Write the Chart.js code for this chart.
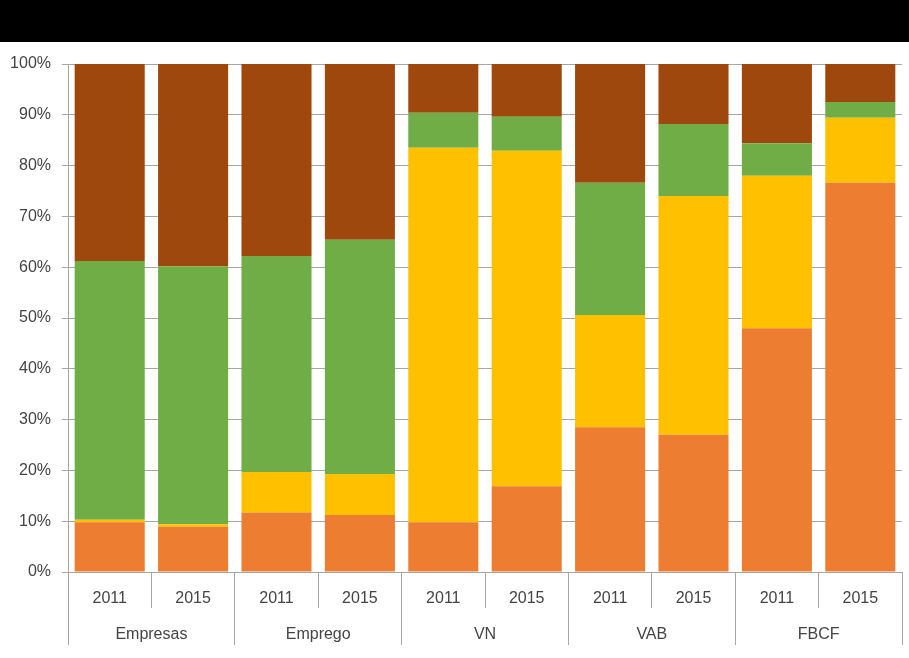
<!DOCTYPE html>
<html lang="pt">
<head>
  <meta charset="UTF-8">
  <title>Estrutura por indicador, 2011 e 2015</title>
  <script src="https://cdn.jsdelivr.net/npm/chart.js"></script>
  <style>
    html, body { margin: 0; padding: 0; background: #fff; }
    .top-band { width: 909px; height: 42px; background: #000; }
    .chart-box { position: relative; width: 909px; height: 616px; }
  </style>
</head>
<body>
  <div class="top-band"></div>
  <div class="chart-box">
    <canvas id="stackChart" width="909" height="616"></canvas>
  </div>

  <script>
    // categories (two levels: year under each group)
    const years = ['2011', '2015', '2011', '2015', '2011', '2015', '2011', '2015', '2011', '2015'];
    const groups = ['Empresas', 'Emprego', 'VN', 'VAB', 'FBCF'];

    // series values, % of each bar (bottom to top)
    const serie1 = [9.8, 8.9, 11.7, 11.2, 9.8, 16.9, 28.5, 27.0, 48.0, 76.6];
    const serie2 = [0.5, 0.5, 8.0, 8.1, 73.7, 66.0, 22.1, 47.0, 30.0, 12.8];
    const serie3 = [50.9, 50.8, 42.5, 46.1, 6.9, 6.7, 26.0, 14.2, 6.4, 3.1];
    const serie4 = [38.8, 39.8, 37.8, 34.6, 9.6, 10.4, 23.4, 11.8, 15.6, 7.5];

    // y tick labels
    const yTicks = [0, 10, 20, 30, 40, 50, 60, 70, 80, 90, 100];

    const textColor = '#444444';
    const lineColor = '#a6a6a6';
    Chart.defaults.font.family = '"Liberation Sans", Arial, sans-serif';
    Chart.defaults.font.size = 16;
    Chart.defaults.color = textColor;

    const series = [
      { label: 'Série 1', data: serie1, color: '#ed7d31' },
      { label: 'Série 2', data: serie2, color: '#ffc000' },
      { label: 'Série 3', data: serie3, color: '#70ad47' },
      { label: 'Série 4', data: serie4, color: '#9e480e' }
    ];

    const ctx = document.getElementById('stackChart').getContext('2d');
    new Chart(ctx, {
      type: 'bar',
      data: {
        labels: years,
        datasets: series.map(s => ({
          label: s.label,
          data: s.data,
          backgroundColor: s.color,
          borderWidth: 0,
          barPercentage: 0.84,
          categoryPercentage: 1
        }))
      },
      options: {
        responsive: false,
        animation: false,
        layout: { padding: { left: 6, right: 7, top: 22, bottom: 13 } },
        plugins: {
          legend: { display: false },
          tooltip: { enabled: false }
        },
        scales: {
          y: {
            stacked: true,
            min: 0,
            max: 100,
            afterBuildTicks: scale => { scale.ticks = yTicks.map(v => ({ value: v })); },
            afterFit: scale => { scale.width = 62; },
            ticks: {
              padding: 11,
              callback: v => v + '%'
            },
            grid: { color: lineColor, tickLength: 6 },
            border: { color: lineColor }
          },
          x: {
            stacked: true,
            offset: true,
            afterFit: scale => { scale.height = 36; },
            ticks: { padding: -19, maxRotation: 0, autoSkip: false },
            grid: {
              offset: true,
              drawOnChartArea: false,
              tickLength: 36,
              color: lineColor
            },
            border: { color: lineColor }
          },
          x2: {
            type: 'category',
            position: 'bottom',
            labels: groups,
            offset: true,
            afterFit: scale => { scale.height = 37; },
            ticks: { padding: -20, maxRotation: 0, autoSkip: false },
            grid: {
              offset: true,
              drawOnChartArea: false,
              tickLength: 37,
              color: lineColor
            },
            border: { display: false }
          }
        }
      }
    });
  </script>
</body>
</html>
